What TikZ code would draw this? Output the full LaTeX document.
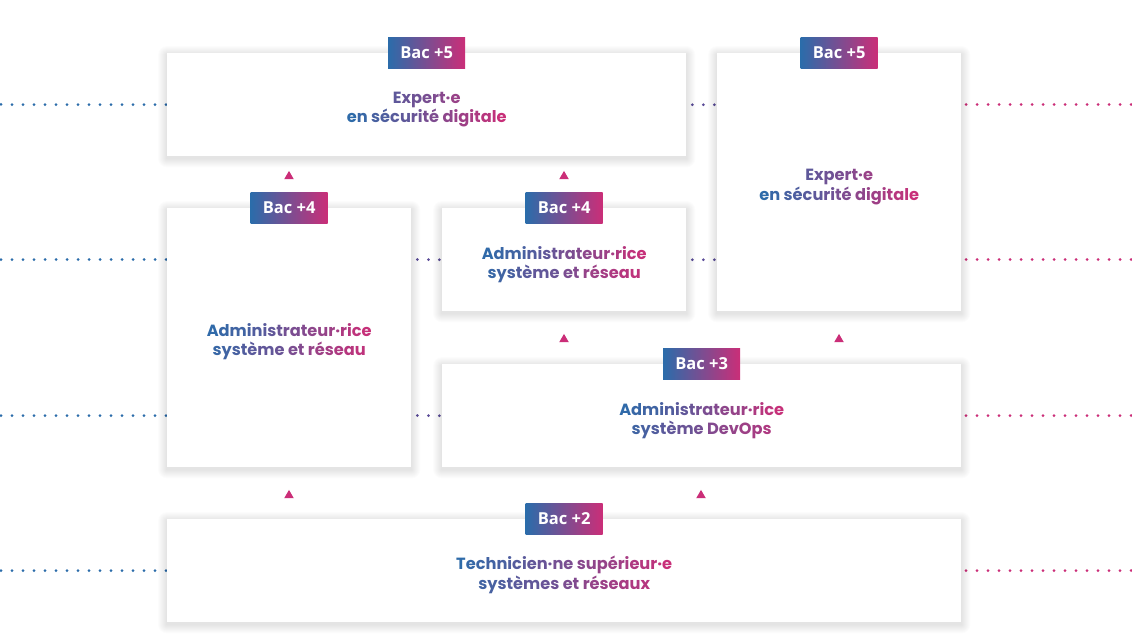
\documentclass[tikz,border=0pt]{standalone}
\usepackage{fontspec}
\setmainfont{Poppins}
\newfontfamily\badgefont{Open Sans}
\usetikzlibrary{shapes.geometric,backgrounds}
\definecolor{gA}{HTML}{2B6CAA}
\definecolor{gB}{HTML}{CB2E78}
\definecolor{gM}{HTML}{5B4C98}
\ExplSyntaxOn
\int_new:N \g__gr_i_int
\int_new:N \g__gr_m_int
\cs_new_protected:Npn \__gr_line:nn #1 #2
  {
    \int_gset:Nn \g__gr_m_int {#1}
    \int_gset:Nn \g__gr_i_int
      { \int_div_truncate:nn { \g__gr_m_int - \str_count:n {#2} } { 2 } }
    \str_map_inline:nn {#2}
      {
        \str_if_eq:nnTF { ##1 } { ~ }
          { ~ }
          { \color { gB ! \fp_eval:n { round ( 100 * ( \g__gr_i_int + 0.5 ) / \g__gr_m_int ) } ! gA } ##1 }
        \int_gincr:N \g__gr_i_int
      }
  }
\NewDocumentCommand \gradtext { m m }
  {
    \__gr_line:nn { \int_max:nn { \str_count:n {#1} } { \str_count:n {#2} } } {#1} \\
    \__gr_line:nn { \int_max:nn { \str_count:n {#1} } { \str_count:n {#2} } } {#2}
  }
\ExplSyntaxOff
\tikzset{
  box/.style={anchor=north west, fill=white, draw=none, inner sep=0pt},
  shadowlayer/.style={fill=black, fill opacity=0.011, draw=none},
  lbl/.style={inner sep=0pt, align=center, font=\fontsize{16.2}{19.5}\selectfont\bfseries},
  badge/.style={minimum width=77pt, minimum height=31pt, inner sep=0pt, left color=gA, right color=gB,
    text=white, font=\badgefont\bfseries\fontsize{16.5}{16.5}\selectfont},
  tri/.style={regular polygon, regular polygon sides=3, fill=gB, draw=none, minimum size=11pt, inner sep=0pt},
  dotline/.style={line width=3pt, line cap=round, dash pattern=on 0pt off 11pt}
}
\begin{document}
\begin{tikzpicture}[x=1pt,y=-1pt]
\useasboundingbox (0,0) rectangle (1132,639);
% boxes
\node[box, minimum width=519pt, minimum height=103pt] (A) at (167,53) {};
\node[box, minimum width=244pt, minimum height=258pt] (B) at (717,53) {};
\node[box, minimum width=244pt, minimum height=259pt] (C) at (167,208) {};
\node[box, minimum width=244pt, minimum height=103pt] (D) at (442,208) {};
\node[box, minimum width=519pt, minimum height=103pt] (E) at (442,364) {};
\node[box, minimum width=794pt, minimum height=103pt] (F) at (167,519) {};
% labels
\node[lbl] (tA) at ([yshift=-5pt]A.center) {\gradtext{Expert·e}{en sécurité digitale}};
\node[lbl] (tB) at ([yshift=-5pt]B.center) {\gradtext{Expert·e}{en sécurité digitale}};
\node[lbl] (tC) at ([yshift=-4pt]C.center) {\gradtext{Administrateur·rice}{système et réseau}};
\node[lbl] (tD) at ([yshift=-5pt]D.center) {\gradtext{Administrateur·rice}{système et réseau}};
\node[lbl] (tE) at ([yshift=-5pt]E.center) {\gradtext{Administrateur·rice}{système DevOps}};
\node[lbl] (tF) at ([yshift=-4pt]F.center) {\gradtext{Technicien·ne supérieur·e}{systèmes et réseaux}};
% badges
\node[badge] (bA) at (A.north) {Bac +5};
\node[badge] (bB) at (B.north) {Bac +5};
\node[badge] (bC) at (C.north) {Bac +4};
\node[badge] (bD) at (D.north) {Bac +4};
\node[badge] (bE) at (E.north) {Bac +3};
\node[badge] (bF) at (F.north) {Bac +2};
% triangles
\node[tri] (t1) at (289,176.4) {};
\node[tri] (t2) at (564,176.4) {};
\node[tri] (t3) at (564,339.4) {};
\node[tri] (t4) at (839,339.4) {};
\node[tri] (t5) at (289,495.4) {};
\node[tri] (t6) at (701,495.4) {};
% dotted guide lines
\coordinate (L1) at (1,104.5);
\coordinate (L2) at (1,259.5);
\coordinate (L3) at (1,415.5);
\coordinate (L4) at (1,570.5);
\coordinate (R1) at (1131,104.5);
\coordinate (R2) at (1131,259.5);
\coordinate (R3) at (1131,415.5);
\coordinate (R4) at (1131,570.5);
\begin{scope}[on background layer]
\fill[white] (0,0) rectangle (1132,639);
\draw[dotline, gA] (L1) -- (A.west);
\draw[dotline, gA] (L2) -- (L2 -| C.west);
\draw[dotline, gA] (L3) -- (L3 -| C.west);
\draw[dotline, gA] (L4) -- (F.west);
\draw[dotline, gB] (R1) -- (R1 -| B.east);
\draw[dotline, gB] (R2) -- (R2 -| B.east);
\draw[dotline, gB] (R3) -- (E.east);
\draw[dotline, gB] (R4) -- (F.east);
\draw[dotline, gM, shorten <=6pt] (A.east) -- (A.east -| B.west);
\draw[dotline, gM, shorten <=6pt] (L2 -| C.east) -- (D.west);
\draw[dotline, gM, shorten <=6pt] (D.east) -- (D.east -| B.west);
\draw[dotline, gM, shorten <=6pt] (L3 -| C.east) -- (E.west);
% soft shadows
\foreach \n in {A,B,C,D,E,F}{
  \foreach \k in {1,...,9}{
    \fill[shadowlayer, rounded corners=\k pt]
      ([shift={(-\k,-\k+2)}]\n.north west) rectangle ([shift={(\k,\k+2)}]\n.south east);
  }
}
\end{scope}
\end{tikzpicture}
\end{document}
